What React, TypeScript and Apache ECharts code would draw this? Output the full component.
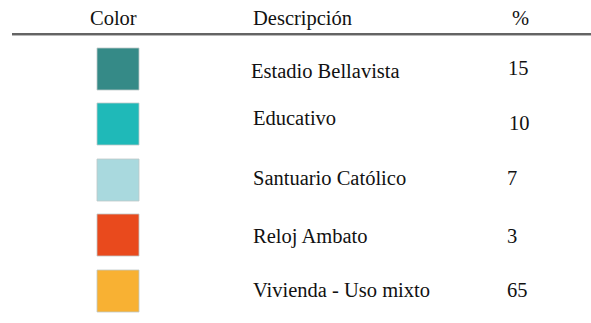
import React, { useEffect, useRef } from "react";
import * as echarts from "echarts";

const headers = ["Color", "Descripción", "%"];
const swatchColors = ["#358a87", "#1fb9b8", "#a9d9de", "#e94a1d", "#f8b133"];
const descriptions = [
  "Estadio Bellavista",
  "Educativo",
  "Santuario Católico",
  "Reloj Ambato",
  "Vivienda - Uso mixto",
];
const percents = [15, 10, 7, 3, 65];

// layout (positions only)
const headerX = [90, 253, 512];
const headerBaseline = 25;
const swatchTop = [48, 103, 159, 214, 270];
const descBaseline = [78, 125, 185, 243, 297];
const descX = [251, 253, 253, 253, 253];
const numBaseline = [75, 130, 185, 243, 297];
const numX = [508, 509, 507, 507, 507];

const FONT = "Liberation Serif";
const FS = 20.5;
const mid = (b: number) => b - 7;

const textStyle = (text: string) => ({
  text,
  fontFamily: FONT,
  fontSize: FS,
  fill: "#111",
  verticalAlign: "middle",
  align: "left",
});

export default function App() {
  const ref = useRef<HTMLDivElement>(null);
  useEffect(() => {
    if (!ref.current) return;
    const chart = echarts.init(ref.current, null, { renderer: "svg" });
    const elements: any[] = [];
    headers.forEach((h, i) => {
      elements.push({
        type: "text",
        x: headerX[i],
        y: mid(headerBaseline),
        style: textStyle(h),
      });
    });
    elements.push({
      type: "rect",
      shape: { x: 12, y: 33, width: 579, height: 2 },
      style: { fill: "#646464" },
    });
    elements.push({
      type: "rect",
      shape: { x: 12, y: 35, width: 579, height: 1 },
      style: { fill: "#b8b8b8" },
    });
    swatchColors.forEach((c, i) => {
      elements.push({
        type: "rect",
        shape: { x: 97, y: swatchTop[i], width: 42, height: 42 },
        style: { fill: c, stroke: "rgba(190,200,200,0.8)", lineWidth: 1 },
      });
      elements.push({
        type: "text",
        x: descX[i],
        y: mid(descBaseline[i]),
        style: textStyle(descriptions[i]),
      });
      elements.push({
        type: "text",
        x: numX[i],
        y: mid(numBaseline[i]),
        style: textStyle(String(percents[i])),
      });
    });
    chart.setOption({
      animation: false,
      backgroundColor: "#ffffff",
      graphic: { elements },
    });
    return () => chart.dispose();
  }, []);
  return (
    <div
      ref={ref}
      style={{ position: "fixed", left: 0, top: 0, width: 591, height: 323 }}
    />
  );
}
